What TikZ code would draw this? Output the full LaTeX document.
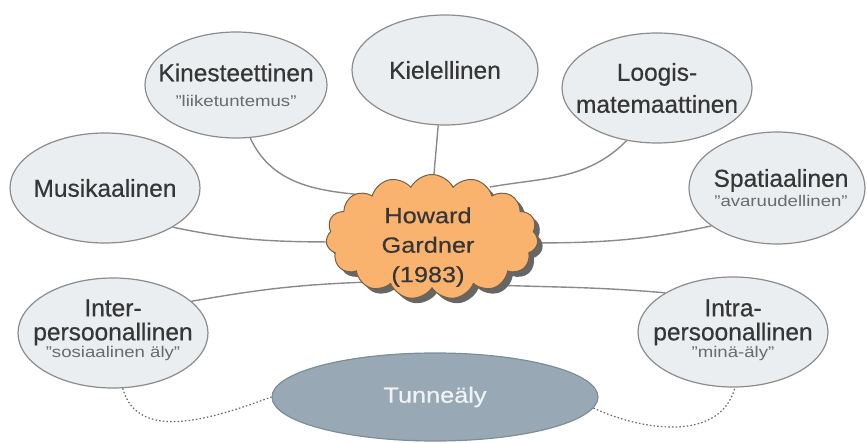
\documentclass[tikz,border=0pt]{standalone}
\usepackage{fontspec}
\setmainfont[FakeBold=0.5]{Liberation Sans}
\newfontfamily\widefont[FakeStretch=1.15,FakeBold=0.5]{Liberation Sans}
\newfontfamily\subfont[FakeStretch=1.2]{Liberation Sans}
\usetikzlibrary{shapes.geometric,shapes.symbols,shadows,calc,backgrounds}
\definecolor{ellfill}{HTML}{EAEEF0}
\definecolor{elldraw}{HTML}{8C8C8C}
\definecolor{txt}{HTML}{363636}
\definecolor{subtxt}{HTML}{6A6A6A}
\definecolor{cloudfill}{HTML}{F9B36F}
\definecolor{clouddraw}{HTML}{76603F}
\definecolor{tunfill}{HTML}{98A9B5}
\definecolor{tundraw}{HTML}{7D8D98}
\definecolor{tuntxt}{HTML}{F0F3F5}
\definecolor{conncol}{HTML}{8A8A8A}
\newcommand\sublbl[1]{{\subfont\fontsize{15.5}{18}\selectfont\color{subtxt}#1}}
\begin{document}
\begin{tikzpicture}[x=1pt,y=1pt,
  intel/.style={ellipse, draw=elldraw, line width=1.2pt, fill=ellfill, inner sep=0pt},
  lbl/.style={text=txt, align=center, inner sep=0pt, font=\fontsize{24.5}{28}\selectfont},
  cloudst/.style={cloud, cloud puffs=15, cloud puff arc=125, cloud ignores aspect,
    minimum width=212, minimum height=125, inner sep=0pt, fill=cloudfill, draw=clouddraw, line width=1pt,
    drop shadow={shadow xshift=5pt, shadow yshift=-5pt, fill=black!60, opacity=1}},
  tunst/.style={ellipse, draw=tundraw, line width=1.2pt, fill=tunfill, inner sep=0pt},
  conn/.style={draw=conncol, line width=1.4pt},
  dots/.style={draw=black!60, line width=1.2pt, dash pattern=on 1.5pt off 2.2pt}
]
\useasboundingbox (0,0) rectangle (867,442);

\node[intel, minimum width=182, minimum height=106,
  label={[lbl]center:{Kinesteettinen\\[-3pt]\sublbl{”liiketuntemus”}}}] (kin) at (236,357) {};
\node[intel, minimum width=186, minimum height=110,
  label={[lbl]center:{Kielellinen}}] (kie) at (445,372) {};
\node[intel, minimum width=190, minimum height=110,
  label={[lbl]center:{Loogis-\\[4pt]matemaattinen}}] (loo) at (657,354) {};
\node[intel, minimum width=190, minimum height=110,
  label={[lbl]center:{Musikaalinen}}] (mus) at (105,254) {};
\node[intel, minimum width=176, minimum height=112,
  label={[lbl, xshift=4]center:{Spatiaalinen\\[-8pt]\sublbl{”avaruudellinen”}}}] (spa) at (777,254) {};
\node[intel, minimum width=190, minimum height=110,
  label={[lbl, yshift=3]center:{Inter-\\[-4pt]persoonallinen\\[-11pt]\sublbl{”sosiaalinen äly”}}}] (inter) at (113,109) {};
\node[intel, minimum width=190, minimum height=110,
  label={[lbl, yshift=2]center:{Intra-\\[-4pt]persoonallinen\\[-11pt]\sublbl{”minä-äly”}}}] (intra) at (733,110) {};
\node[tunst, minimum width=326, minimum height=88,
  label={[text=tuntxt, inner sep=0pt, font=\widefont\fontsize{22}{26}\selectfont]center:{Tunneäly}}] (tun) at (435,45) {};
\node[cloudst,
  label={[lbl, font=\widefont\fontsize{22}{29.5}\selectfont, xshift=-4, yshift=-10]center:{Howard\\Gardner\\(1983)}}] (cloud) at (432,205) {};

\begin{scope}[on background layer]
\draw[conn] (kin.-75) to[out=-65,in=175] ($(cloud.center)+(-45,40)$);
\draw[conn] (kie.-97) -- ($(cloud.center)+(0,40)$);
\draw[conn] (loo.-120) to[out=-135,in=10] ($(cloud.center)+(58,50)$);
\draw[conn] (mus.-30) to[out=-12,in=180] ($(cloud.center)+(-72,-5)$);
\draw[conn] (spa.-150) to[out=-168,in=0] ($(cloud.center)+(90,-6)$);
\draw[conn] (inter.22) to[out=10,in=182] ($(cloud.center)+(-62,-45)$);
\draw[conn] (intra.150) to[out=175,in=-2] ($(cloud.center)+(58,-48)$);
\draw[dots] (inter.-80) to[out=-75,in=200] (tun.180);
\draw[dots] (tun.-4) to[out=-25,in=-105] (intra.-88);
\end{scope}
\end{tikzpicture}
\end{document}
